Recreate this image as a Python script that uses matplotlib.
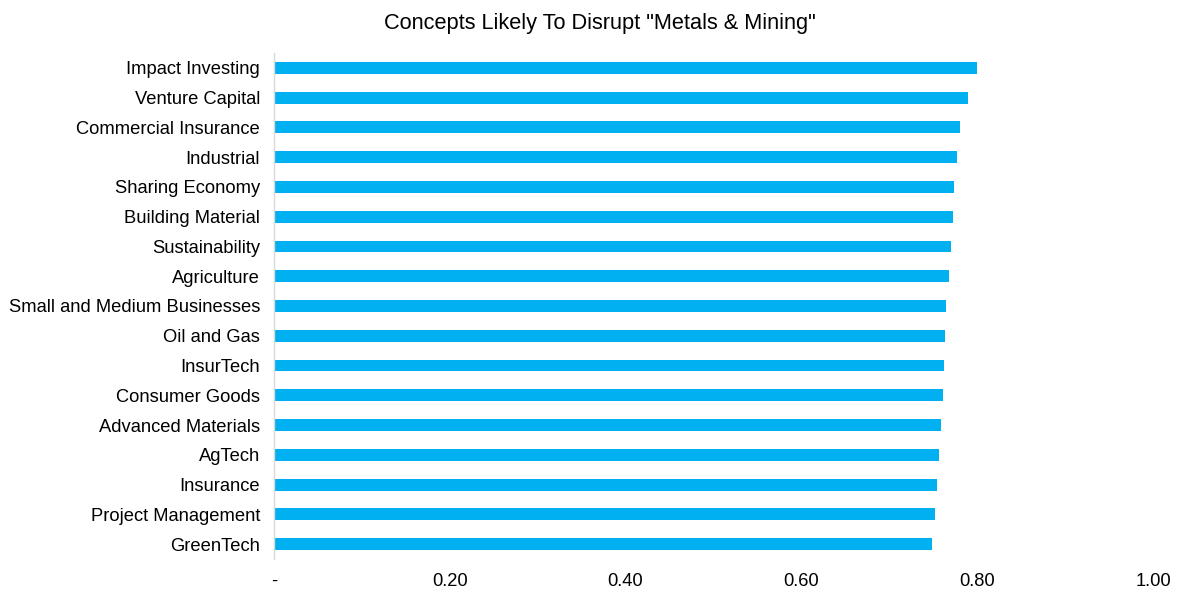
import matplotlib
matplotlib.use("Agg")
import matplotlib.pyplot as plt
from matplotlib.ticker import FuncFormatter

categories = ["Impact Investing", "Venture Capital", "Commercial Insurance", "Industrial",
              "Sharing Economy", "Building Material", "Sustainability", "Agriculture",
              "Small and Medium Businesses", "Oil and Gas", "InsurTech", "Consumer Goods",
              "Advanced Materials", "AgTech", "Insurance", "Project Management", "GreenTech"]
values = [0.800, 0.790, 0.780, 0.777, 0.774, 0.772, 0.770, 0.768, 0.765, 0.763,
          0.762, 0.761, 0.759, 0.757, 0.754, 0.752, 0.749]
x_ticks = [0.0, 0.2, 0.4, 0.6, 0.8, 1.0]
title = 'Concepts Likely To Disrupt "Metals & Mining"'

plt.rcParams['font.family'] = ['Liberation Sans', 'DejaVu Sans']

fig = plt.figure(figsize=(12, 6), dpi=100)
ax = fig.add_axes([0.2283, 0.0683, 0.9608 - 0.2283, 0.9117 - 0.0683])

pos = list(range(len(categories)))
ax.barh(pos, values, height=0.4, color="#00B0F0")
ax.set_ylim(len(categories) - 0.5, -0.5)
ax.set_yticks(pos)
ax.set_yticklabels(categories, fontsize=13.2)
ax.set_xlim(0, 1.0)
ax.set_xticks(x_ticks)
ax.xaxis.set_major_formatter(FuncFormatter(lambda v, p: "-" if abs(v) < 1e-9 else f"{v:.2f}"))
ax.tick_params(axis='x', labelsize=13.2, length=0, pad=10)
ax.tick_params(axis='y', length=0, pad=10)

for s in ["top", "right", "bottom"]:
    ax.spines[s].set_visible(False)
ax.spines["left"].set_color("#d9d9d9")
ax.spines["left"].set_linewidth(1)

fig.suptitle(title, fontsize=15.7, y=0.978)

fig.savefig("out.png", dpi=100)
